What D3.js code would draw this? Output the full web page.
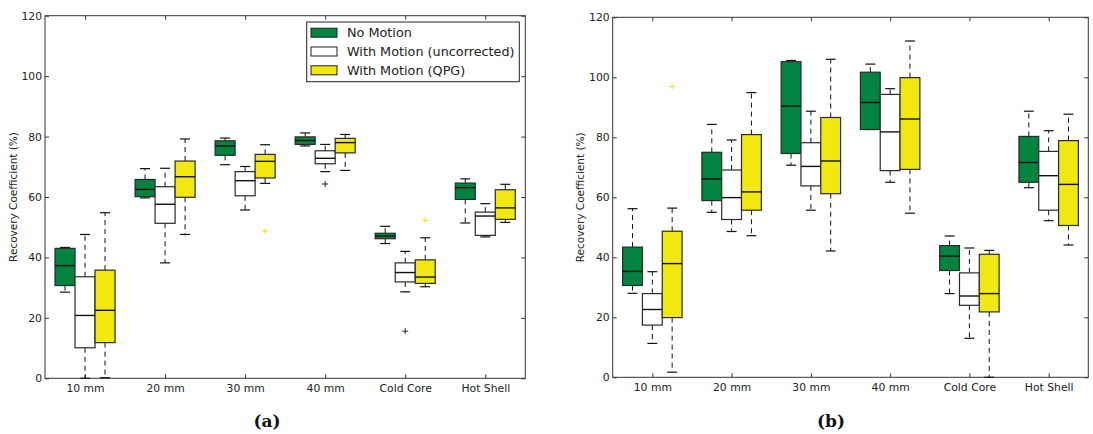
<!DOCTYPE html>
<html>
<head>
<meta charset="utf-8">
<script src="https://cdn.jsdelivr.net/npm/d3@7"></script>
<style>
body{margin:0;background:#fff}
svg{display:block}
text{font-family:"DejaVu Sans",sans-serif;fill:#222}
</style>
</head>
<body>
<svg id="chart" width="1093" height="434"></svg>
<script>
const categories = ["10 mm","20 mm","30 mm","40 mm","Cold Core","Hot Shell"];
const seriesNames = ["No Motion","With Motion (uncorrected)","With Motion (QPG)"];
const seriesColors = ["#00843f","#ffffff","#f0e80f"];
const flierColors = ["#00843f","#222222","#e8e020"];
const yTicks = [0,20,40,60,80,100,120];

// each entry: [whisker low, Q1, median, Q3, whisker high]
const a_noMotion = [[28.5,30.7,37.3,43.0,43.3],[59.7,60.1,62.5,65.8,69.4],[70.7,73.8,76.9,78.6,79.5],
                    [76.9,77.4,78.7,79.9,81.2],[44.6,46.2,47.1,48.0,50.3],[51.4,59.2,63.1,64.6,66.0]];
const a_uncorrected = [[0,10.1,20.8,33.6,47.6],[38.2,51.3,57.6,63.4,69.5],[55.7,60.4,65.4,68.4,70.1],
                       [68.4,71.0,72.8,75.3,77.4],[28.6,31.9,35.0,38.2,42.0],[46.8,47.3,53.7,55.0,57.8]];
const a_qpg = [[0.2,11.8,22.5,35.8,54.8],[47.6,59.9,66.7,71.9,79.2],[64.5,66.3,71.8,74.1,77.3],
               [68.8,74.6,78.0,79.4,80.7],[30.3,31.4,33.5,39.2,46.5],[51.6,52.6,56.4,62.4,64.2]];
// outliers: [series index, category index, value]
const a_outliers = [[2,2,48.7],[1,3,64.3],[1,4,15.6],[2,4,52.3]];

const b_noMotion = [[28.0,30.6,35.3,43.4,56.2],[55.0,58.9,66.1,75.0,84.3],[70.7,74.6,90.4,105.2,105.6],
                    [82.6,82.6,91.6,101.7,104.4],[27.9,35.6,40.4,43.9,47.1],[63.2,65.0,71.6,80.3,88.7]];
const b_uncorrected = [[11.3,17.4,22.6,27.9,35.2],[48.6,52.6,59.9,69.1,79.1],[55.7,63.8,70.3,78.2,88.7],
                       [65.0,68.9,81.8,94.3,96.2],[13.0,24.0,27.1,34.8,43.1],[52.2,55.7,67.2,75.3,82.2]];
const b_qpg = [[1.7,19.9,37.9,48.7,56.4],[47.2,55.7,61.8,80.9,94.9],[42.1,61.2,72.1,86.6,106.0],
               [54.7,69.3,86.1,99.9,112.1],[0,21.8,27.9,41.0,42.3],[44.1,50.6,64.3,78.9,87.7]];
const b_outliers = [[2,0,96.9]];

const svg = d3.select('#chart');
const offsets = [-0.25, 0, 0.25];

function drawPanel(box, series, outliers, tag, tagX, ylabelX, withLegend) {
  const g = svg.append('g');
  const x = d3.scaleLinear().domain([0.5, 6.5]).range([box.left, box.right]);
  const y = d3.scaleLinear().domain([0, 120]).range([box.bottom, box.top]);
  const bw = x(1.25) - x(1);

  // axes, ticks pointing inward
  const axL = g.append('g').attr('transform', `translate(${box.left},0)`)
    .call(d3.axisLeft(y).tickValues(yTicks).tickSize(-4).tickSizeOuter(0).tickPadding(3));
  const axB = g.append('g').attr('transform', `translate(0,${box.bottom})`)
    .call(d3.axisBottom(x).tickValues([1,2,3,4,5,6]).tickFormat(d => categories[d-1])
      .tickSize(-4).tickSizeOuter(0).tickPadding(6));
  g.append('g').attr('transform', `translate(${box.right},0)`)
    .call(d3.axisRight(y).tickValues(yTicks).tickSize(-4).tickSizeOuter(0).tickFormat(''));
  g.append('g').attr('transform', `translate(0,${box.top})`)
    .call(d3.axisTop(x).tickValues([1,2,3,4,5,6]).tickSize(-4).tickSizeOuter(0).tickFormat(''));
  g.selectAll('.domain').remove();
  g.selectAll('.tick line').attr('stroke', '#333');
  [axL, axB].forEach(a => a.selectAll('text')
    .style('font-family', '"DejaVu Sans",sans-serif').style('font-size', '10.8px').attr('fill', '#222'));

  g.append('rect')
    .attr('x', box.left).attr('y', box.top)
    .attr('width', box.right - box.left).attr('height', box.bottom - box.top)
    .attr('fill', 'none').attr('stroke', '#333').attr('stroke-width', 1);

  series.forEach((vals, si) => {
    const sg = g.append('g');
    const cx = (ci) => x(ci + 1 + offsets[si]);
    // whiskers
    sg.selectAll('.wlo').data(vals).enter().append('line')
      .attr('x1', (d, i) => cx(i)).attr('x2', (d, i) => cx(i))
      .attr('y1', d => y(d[1])).attr('y2', d => y(d[0]))
      .attr('stroke', '#111').attr('stroke-dasharray', '5,4');
    sg.selectAll('.whi').data(vals).enter().append('line')
      .attr('x1', (d, i) => cx(i)).attr('x2', (d, i) => cx(i))
      .attr('y1', d => y(d[3])).attr('y2', d => y(d[4]))
      .attr('stroke', '#111').attr('stroke-dasharray', '5,4');
    // caps
    [0, 4].forEach(k => {
      sg.selectAll('.cap' + k).data(vals).enter().append('line')
        .attr('x1', (d, i) => cx(i) - bw / 4).attr('x2', (d, i) => cx(i) + bw / 4)
        .attr('y1', d => y(d[k])).attr('y2', d => y(d[k]))
        .attr('stroke', '#111').attr('stroke-width', 1.2);
    });
    // boxes
    sg.selectAll('rect').data(vals).enter().append('rect')
      .attr('x', (d, i) => cx(i) - bw / 2).attr('width', bw)
      .attr('y', d => y(d[3])).attr('height', d => y(d[1]) - y(d[3]))
      .attr('fill', seriesColors[si]).attr('stroke', '#2a2a2a').attr('stroke-width', 1.2);
    // medians
    sg.selectAll('.med').data(vals).enter().append('line')
      .attr('x1', (d, i) => cx(i) - bw / 2).attr('x2', (d, i) => cx(i) + bw / 2)
      .attr('y1', d => y(d[2])).attr('y2', d => y(d[2]))
      .attr('stroke', '#111').attr('stroke-width', 1.4);
  });

  // outliers as '+' markers
  const fl = g.selectAll('.flier').data(outliers).enter().append('g')
    .attr('transform', d => `translate(${x(d[1] + 1 + offsets[d[0]])},${y(d[2])})`);
  fl.append('line').attr('x1', -3).attr('x2', 3).attr('stroke', d => flierColors[d[0]]);
  fl.append('line').attr('y1', -3).attr('y2', 3).attr('stroke', d => flierColors[d[0]]);

  // y label
  g.append('text')
    .attr('transform', `translate(${ylabelX},${(box.top + box.bottom) / 2}) rotate(-90)`)
    .attr('text-anchor', 'middle').attr('dominant-baseline', 'central')
    .style('font-size', '10.5px')
    .text('Recovery Coefficient (%)');

  // panel tag
  g.append('text')
    .attr('x', tagX).attr('y', 427)
    .attr('text-anchor', 'middle')
    .style('font-family', '"DejaVu Serif",serif').style('font-weight', 'bold').style('font-size', '17px')
    .style('fill', '#111')
    .text(tag);

  if (withLegend) {
    const lg = g.append('g');
    lg.append('rect').attr('x', 306.7).attr('y', 22).attr('width', 212.6).attr('height', 59.7)
      .attr('fill', '#fff').attr('stroke', '#222');
    const rows = lg.selectAll('.row').data(seriesNames).enter().append('g')
      .attr('transform', (d, i) => `translate(311,${32.7 + i * 18.8})`);
    rows.append('rect').attr('x', 0).attr('y', -4.5).attr('width', 26).attr('height', 9)
      .attr('fill', (d, i) => seriesColors[i]).attr('stroke', '#222');
    rows.append('text').attr('x', 36).attr('dominant-baseline', 'central')
      .style('font-size', '12.8px').text(d => d);
  }
}

drawPanel({left: 45, right: 525.3, top: 15.7, bottom: 378.3},
  [a_noMotion, a_uncorrected, a_qpg], a_outliers, '(a)', 267, 12.5, true);
drawPanel({left: 612.7, right: 1088.3, top: 17.3, bottom: 377.3},
  [b_noMotion, b_uncorrected, b_qpg], b_outliers, '(b)', 831, 580, false);
</script>
</body>
</html>
